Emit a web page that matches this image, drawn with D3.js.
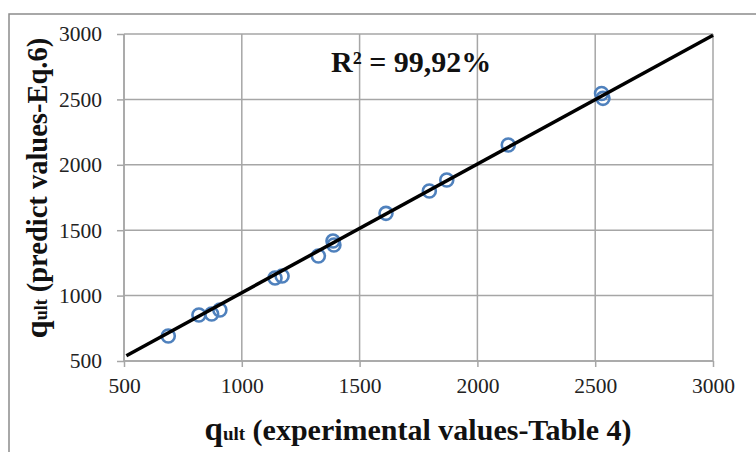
<!DOCTYPE html>
<html><head><meta charset="utf-8">
<script src="https://cdn.jsdelivr.net/npm/d3@7"></script>
<style>html,body{margin:0;padding:0;background:#fff;}svg{display:block;}</style>
</head><body>
<svg id="chart" width="756" height="452"></svg>
<script>
const experimental = [688, 818, 872, 907, 1141, 1171, 1325, 1387, 1391, 1612, 1796, 1870, 2131, 2527, 2533];
const predicted    = [691, 852, 859, 890, 1135, 1150, 1303, 1417, 1387, 1629, 1800, 1884, 2151, 2545, 2508];
const fitX = [510, 3000];
const fitY = [540, 2990];
const xTicks = [500, 1000, 1500, 2000, 2500, 3000];
const yTicks = [500, 1000, 1500, 2000, 2500, 3000];
const r2Label = "R² = 99,92%";

const svg = d3.select("#chart");
const L = 124, R = 713, T = 34, B = 361;
const x = d3.scaleLinear().domain([500, 3000]).range([L, R]);
const y = d3.scaleLinear().domain([500, 3000]).range([B, T]);
const grid = "#a6a6a6";
const serif = "'Liberation Serif','Times New Roman',serif";

// outer frame
svg.append("rect").attr("x", 9).attr("y", 14).attr("width", 760).attr("height", 460)
  .attr("fill", "none").attr("stroke", "#8c8c8c").attr("stroke-width", 1.5);

// gridlines
svg.append("g").selectAll("line.h").data(yTicks).join("line")
  .attr("x1", L).attr("x2", R).attr("y1", d => y(d)).attr("y2", d => y(d))
  .attr("stroke", grid).attr("stroke-width", 1.5);
svg.append("g").selectAll("line.v").data(xTicks).join("line")
  .attr("y1", T).attr("y2", B).attr("x1", d => x(d)).attr("x2", d => x(d))
  .attr("stroke", grid).attr("stroke-width", 1.5);

// axes
const xAxis = svg.append("g").attr("transform", `translate(0,${B})`)
  .call(d3.axisBottom(x).tickValues(xTicks).tickSize(6).tickPadding(11).tickFormat(d3.format("d")));
const yAxis = svg.append("g").attr("transform", `translate(${L},0)`)
  .call(d3.axisLeft(y).tickValues(yTicks).tickSize(7).tickPadding(15).tickFormat(d3.format("d")));
[xAxis, yAxis].forEach(a => {
  a.selectAll("path,line").attr("stroke", grid).attr("stroke-width", 1.5);
  a.selectAll("text").attr("font-family", serif).attr("font-size", 21.5).attr("fill", "#222");
});
xAxis.select(".domain").remove();
yAxis.select(".domain").remove();
svg.append("line").attr("x1", L).attr("x2", L).attr("y1", T).attr("y2", B).attr("stroke", grid).attr("stroke-width", 1.5);
svg.append("line").attr("x1", L).attr("x2", R).attr("y1", B).attr("y2", B).attr("stroke", grid).attr("stroke-width", 1.5);

// points
svg.append("g").selectAll("circle").data(experimental).join("circle")
  .attr("cx", d => x(d)).attr("cy", (d, i) => y(predicted[i])).attr("r", 6.5)
  .attr("fill", "none").attr("stroke", "#4f81bd").attr("stroke-width", 2.6);

// fit line
svg.append("line")
  .attr("x1", x(fitX[0])).attr("y1", y(fitY[0])).attr("x2", x(fitX[1])).attr("y2", y(fitY[1]))
  .attr("stroke", "#000").attr("stroke-width", 3.5);

// R2 label
svg.append("text").attr("x", 331).attr("y", 72).attr("font-family", serif)
  .attr("font-weight", "bold").attr("font-size", 30).attr("fill", "#111").text(r2Label);

// axis titles
const xt = svg.append("text").attr("x", 418).attr("y", 440).attr("text-anchor", "middle")
  .attr("font-family", serif).attr("font-weight", "bold").attr("fill", "#111");
xt.append("tspan").attr("font-size", 33).text("q");
xt.append("tspan").attr("font-size", 19).text("ult");
xt.append("tspan").attr("font-size", 30).text(" (experimental values-Table 4)");

const yt = svg.append("text").attr("transform", "translate(47,188) rotate(-90)").attr("text-anchor", "middle")
  .attr("font-family", serif).attr("font-weight", "bold").attr("fill", "#111");
yt.append("tspan").attr("font-size", 32).text("q");
yt.append("tspan").attr("font-size", 18).text("ult");
yt.append("tspan").attr("font-size", 28.5).text(" (predict values-Eq.6)");
</script>
</body></html>
